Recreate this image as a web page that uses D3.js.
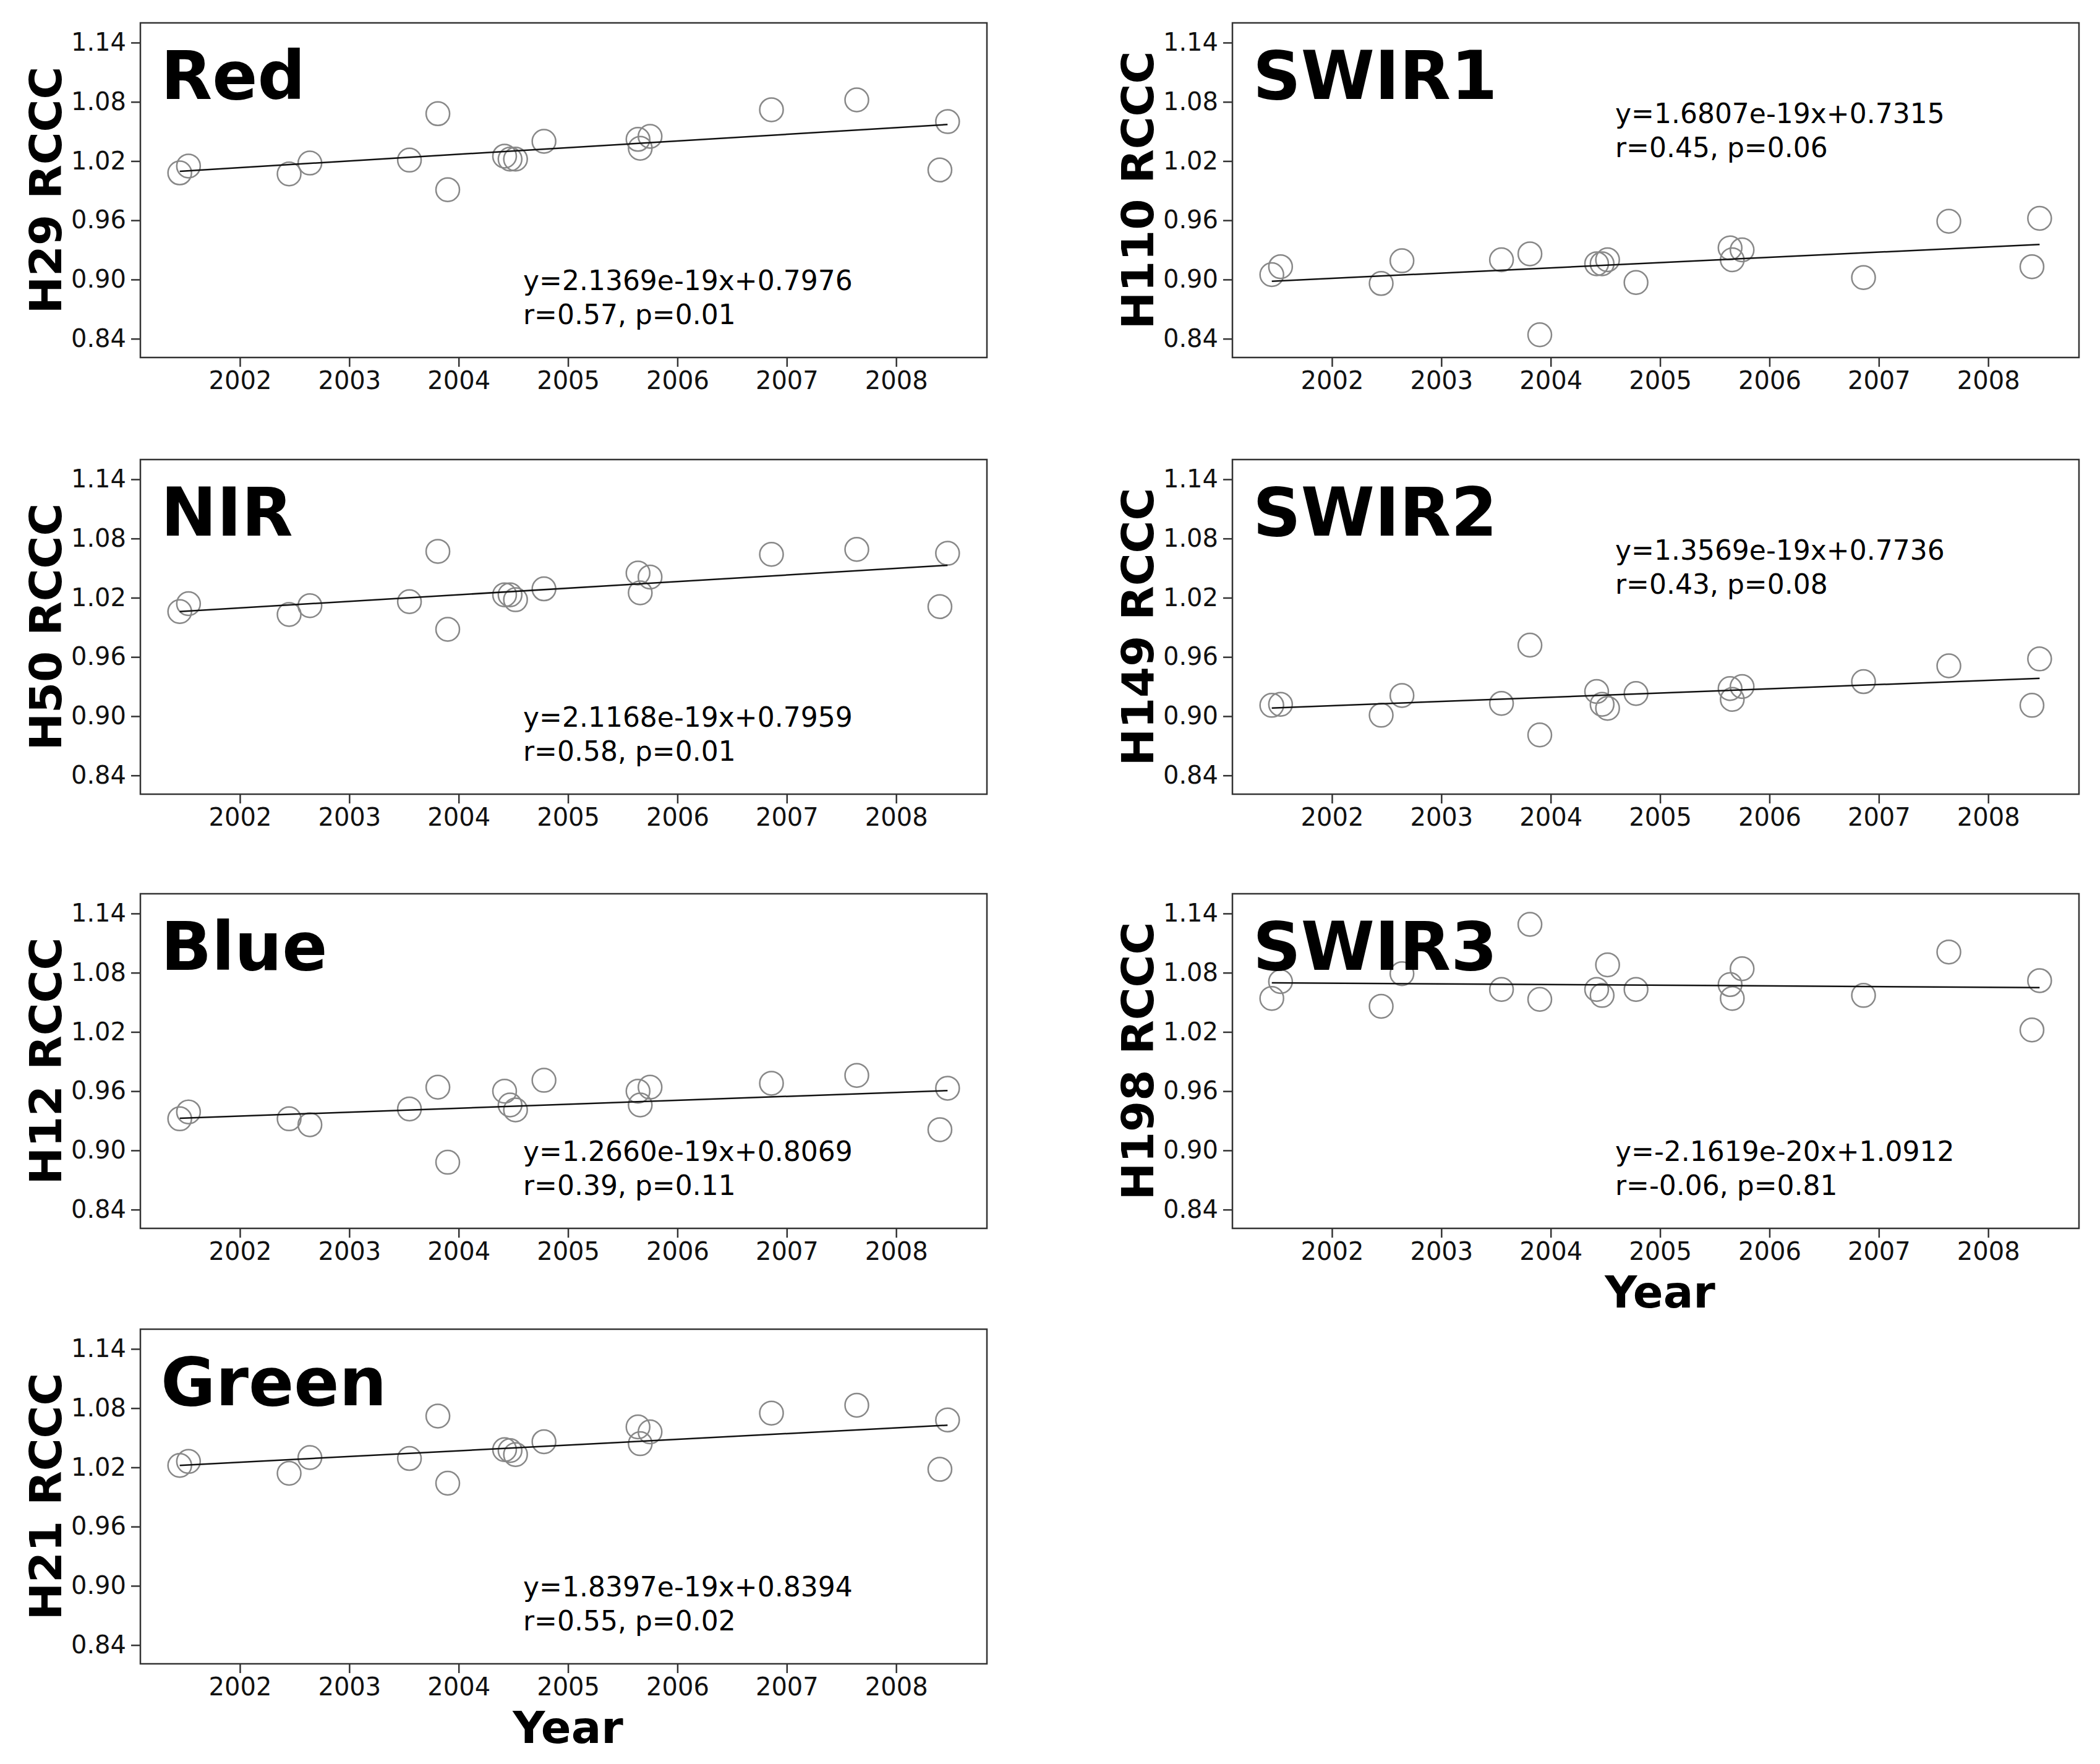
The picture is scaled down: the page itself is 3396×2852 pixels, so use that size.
<!DOCTYPE html>
<html><head><meta charset="utf-8">
<script src="https://cdn.jsdelivr.net/npm/d3@7"></script>
<style>body{margin:0;background:#fff}</style></head>
<body><svg id="c" width="3396" height="2852"></svg>
<script>
const dates=[2001.45,2001.53,2002.45,2002.64,2003.55,2003.81,2003.90,2004.42,2004.47,2004.52,2004.78,2005.64,2005.66,2005.75,2006.86,2007.64,2008.40,2008.47];
const red=[1.008,1.015,1.007,1.018,1.021,1.068,0.991,1.025,1.022,1.022,1.040,1.042,1.033,1.045,1.072,1.082,1.011,1.060];
const nir=[1.006,1.014,1.003,1.012,1.016,1.067,0.988,1.023,1.023,1.018,1.029,1.045,1.025,1.041,1.064,1.069,1.011,1.065];
const blue=[0.932,0.939,0.932,0.926,0.942,0.964,0.888,0.960,0.946,0.941,0.971,0.960,0.946,0.964,0.968,0.976,0.921,0.963];
const green=[1.022,1.026,1.014,1.030,1.029,1.072,1.004,1.038,1.037,1.033,1.046,1.061,1.044,1.056,1.075,1.083,1.018,1.068];
const swir1=[0.905,0.913,0.896,0.919,0.920,0.926,0.844,0.916,0.916,0.920,0.897,0.932,0.920,0.930,0.902,0.959,0.913,0.962];
const swir2=[0.911,0.912,0.901,0.921,0.913,0.972,0.881,0.925,0.912,0.908,0.923,0.928,0.917,0.930,0.935,0.951,0.911,0.958];
const swir3=[1.054,1.071,1.046,1.079,1.063,1.129,1.053,1.063,1.057,1.088,1.063,1.068,1.054,1.084,1.057,1.101,1.022,1.072];
const yTicks=[0.84,0.90,0.96,1.02,1.08,1.14];
const xTicks=[2002,2003,2004,2005,2006,2007,2008];
const panels=[
 {name:"Red",ylab:"H29 RCCC",vals:red,slope:2.1369e-19,icpt:0.7976,r:"r=0.57, p=0.01",eq:"y=2.1369e-19x+0.7976",col:0,row:0,annTop:false},
 {name:"NIR",ylab:"H50 RCCC",vals:nir,slope:2.1168e-19,icpt:0.7959,r:"r=0.58, p=0.01",eq:"y=2.1168e-19x+0.7959",col:0,row:1,annTop:false},
 {name:"Blue",ylab:"H12 RCCC",vals:blue,slope:1.2660e-19,icpt:0.8069,r:"r=0.39, p=0.11",eq:"y=1.2660e-19x+0.8069",col:0,row:2,annTop:false},
 {name:"Green",ylab:"H21 RCCC",vals:green,slope:1.8397e-19,icpt:0.8394,r:"r=0.55, p=0.02",eq:"y=1.8397e-19x+0.8394",col:0,row:3,annTop:false,year:true},
 {name:"SWIR1",ylab:"H110 RCCC",vals:swir1,slope:1.6807e-19,icpt:0.7315,r:"r=0.45, p=0.06",eq:"y=1.6807e-19x+0.7315",col:1,row:0,annTop:true},
 {name:"SWIR2",ylab:"H149 RCCC",vals:swir2,slope:1.3569e-19,icpt:0.7736,r:"r=0.43, p=0.08",eq:"y=1.3569e-19x+0.7736",col:1,row:1,annTop:true},
 {name:"SWIR3",ylab:"H198 RCCC",vals:swir3,slope:-2.1619e-20,icpt:1.0912,r:"r=-0.06, p=0.81",eq:"y=-2.1619e-20x+1.0912",col:1,row:2,annTop:false,year:true},
];
const svg=d3.select("#c");
const colX=[227,1993], rowY=[37,743,1445,2149], W=1369, H=541;
const toNs=y=>(y-1970)*365.25*86400e9;
const F="DejaVu Sans, sans-serif";
panels.forEach(p=>{
  const x0=colX[p.col], y0=rowY[p.row];
  const g=svg.append("g").attr("transform",`translate(${x0},${y0})`);
  const x=d3.scaleLinear().domain([2001.09,2008.83]).range([0,W]);
  const y=d3.scaleLinear().domain([0.821,1.160]).range([H,0]);
  const xa=g.append("g").attr("transform",`translate(0,${H})`).call(d3.axisBottom(x).tickValues(xTicks).tickFormat(d3.format("d")).tickSize(15).tickPadding(8));
  const ya=g.append("g").call(d3.axisLeft(y).tickValues(yTicks).tickFormat(d3.format(".2f")).tickSize(15).tickPadding(8));
  [xa,ya].forEach(a=>{a.selectAll("text").attr("font-family",F).attr("font-size",40).attr("fill","#111");a.selectAll("line").attr("stroke","#333").attr("stroke-width",2.5);a.select(".domain").remove();});
  g.append("rect").attr("width",W).attr("height",H).attr("fill","none").attr("stroke","#333").attr("stroke-width",2.5);
  g.selectAll("circle").data(p.vals).join("circle").attr("cx",(d,i)=>x(dates[i])).attr("cy",d=>y(d)).attr("r",19).attr("fill","none").attr("stroke","#888").attr("stroke-width",2.5);
  const xs=[dates[0],dates[dates.length-1]];
  g.append("line").attr("x1",x(xs[0])).attr("x2",x(xs[1])).attr("y1",y(p.slope*toNs(xs[0])+p.icpt)).attr("y2",y(p.slope*toNs(xs[1])+p.icpt)).attr("stroke","#111").attr("stroke-width",2.5);
  g.append("text").attr("x",33).attr("y",123).attr("font-family",F).attr("font-weight","bold").attr("font-size",108).text(p.name);
  const ax=p.col===0?619:619, ay=p.annTop?162:432;
  g.append("text").attr("x",ax).attr("y",ay).attr("font-family",F).attr("font-size",44).text(p.eq);
  g.append("text").attr("x",ax).attr("y",ay+55).attr("font-family",F).attr("font-size",44).text(p.r);
  g.append("text").attr("transform",`translate(${-128},${H/2}) rotate(-90)`).attr("text-anchor","middle").attr("font-family",F).attr("font-weight","bold").attr("font-size",72).text(p.ylab);
  if(p.year) g.append("text").attr("x",x(2005)).attr("y",H+128).attr("text-anchor","middle").attr("font-family",F).attr("font-weight","bold").attr("font-size",72).text("Year");
});
</script></body></html>
